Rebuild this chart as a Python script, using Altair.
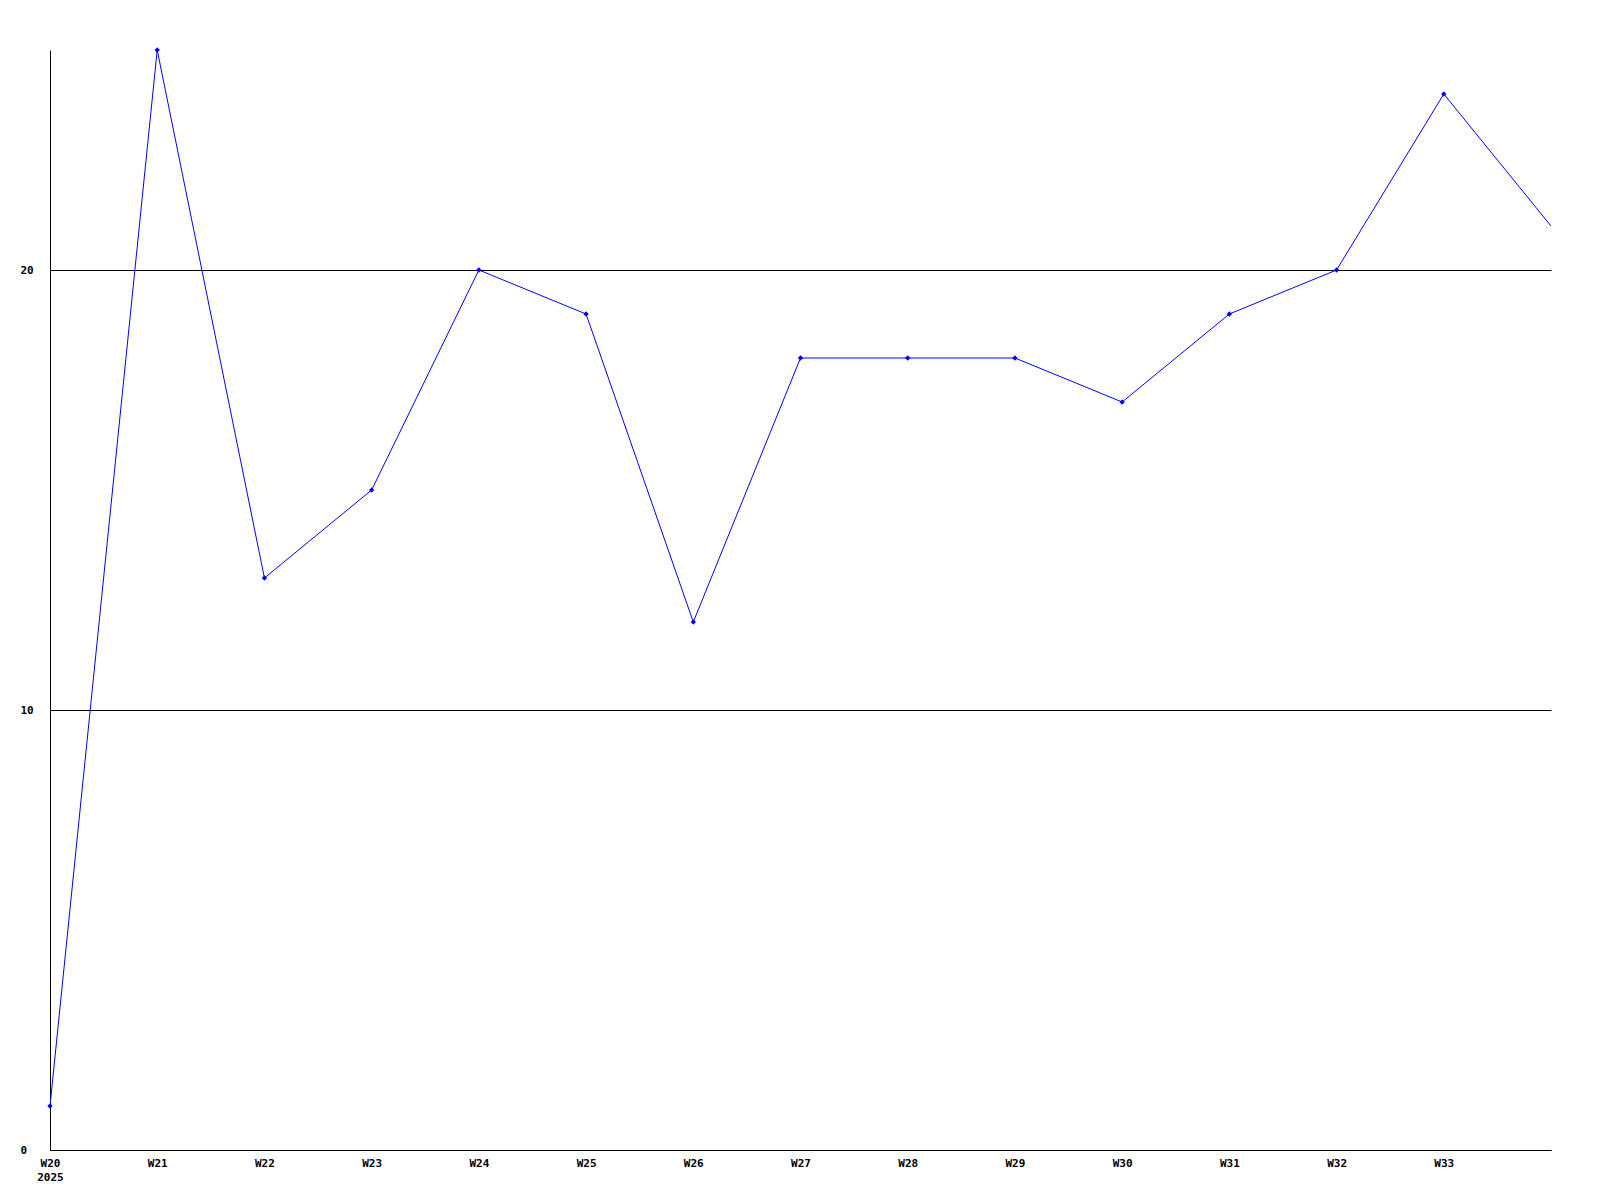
import altair as alt
import pandas as pd

weeks = [20, 21, 22, 23, 24, 25, 26, 27, 28, 29, 30, 31, 32, 33, 34]
values = [1, 25, 13, 15, 20, 19, 12, 18, 18, 18, 17, 19, 20, 24, 21]
tick_weeks = [20, 21, 22, 23, 24, 25, 26, 27, 28, 29, 30, 31, 32, 33]
y_ticks = [0, 10, 20]

df = pd.DataFrame({"week": weeks, "value": values})

FONT = "DejaVu Sans Mono"

x = alt.X(
    "week:Q",
    scale=alt.Scale(domain=[20, 34], nice=False, zero=False),
    axis=alt.Axis(
        values=tick_weeks,
        labelExpr="datum.value == 20 ? ['W20', '2025'] : 'W' + datum.value",
        ticks=False,
        tickSize=0,
        grid=False,
        labelPadding=7,
        labelFont=FONT,
        labelFontSize=11,
        labelFontWeight="bold",
        labelColor="black",
        labelBaseline="top",
        labelLineHeight=14,
        domainColor="black",
        domainWidth=1,
        title=None,
        labelFlush=False,
        labelOverlap=False,
    ),
)
y = alt.Y(
    "value:Q",
    scale=alt.Scale(domain=[0, 25], nice=False),
    axis=alt.Axis(
        values=y_ticks,
        ticks=False,
        tickSize=0,
        grid=True,
        gridColor="black",
        gridWidth=1,
        gridOpacity=1,
        labelPadding=30,
        labelAlign="left",
        labelFont=FONT,
        labelFontSize=11,
        labelFontWeight="bold",
        labelColor="black",
        domainColor="black",
        domainWidth=1,
        title=None,
        labelFlush=False,
        labelOverlap=False,
    ),
)

line = alt.Chart(df).mark_line(color="#0000ff", strokeWidth=1, clip=True).encode(x=x, y=y)
pts = (
    alt.Chart(df)
    .transform_filter("datum.week < 34")
    .mark_point(shape="diamond", filled=True, color="#0000ff", size=28, opacity=1)
    .encode(x=x, y=y)
)

chart = (
    alt.layer(line, pts)
    .properties(
        width=1501,
        height=1100,
        autosize=alt.AutoSizeParams(type="none"),
        padding={"left": 42, "top": 42, "right": 30, "bottom": 40},
        view=alt.ViewBackground(stroke="white", strokeWidth=0),
    )
    .configure_view(stroke="white", strokeWidth=0)
    .configure(background="white")
)

chart.save("out.html", embed_options={"renderer": "svg", "actions": False})
